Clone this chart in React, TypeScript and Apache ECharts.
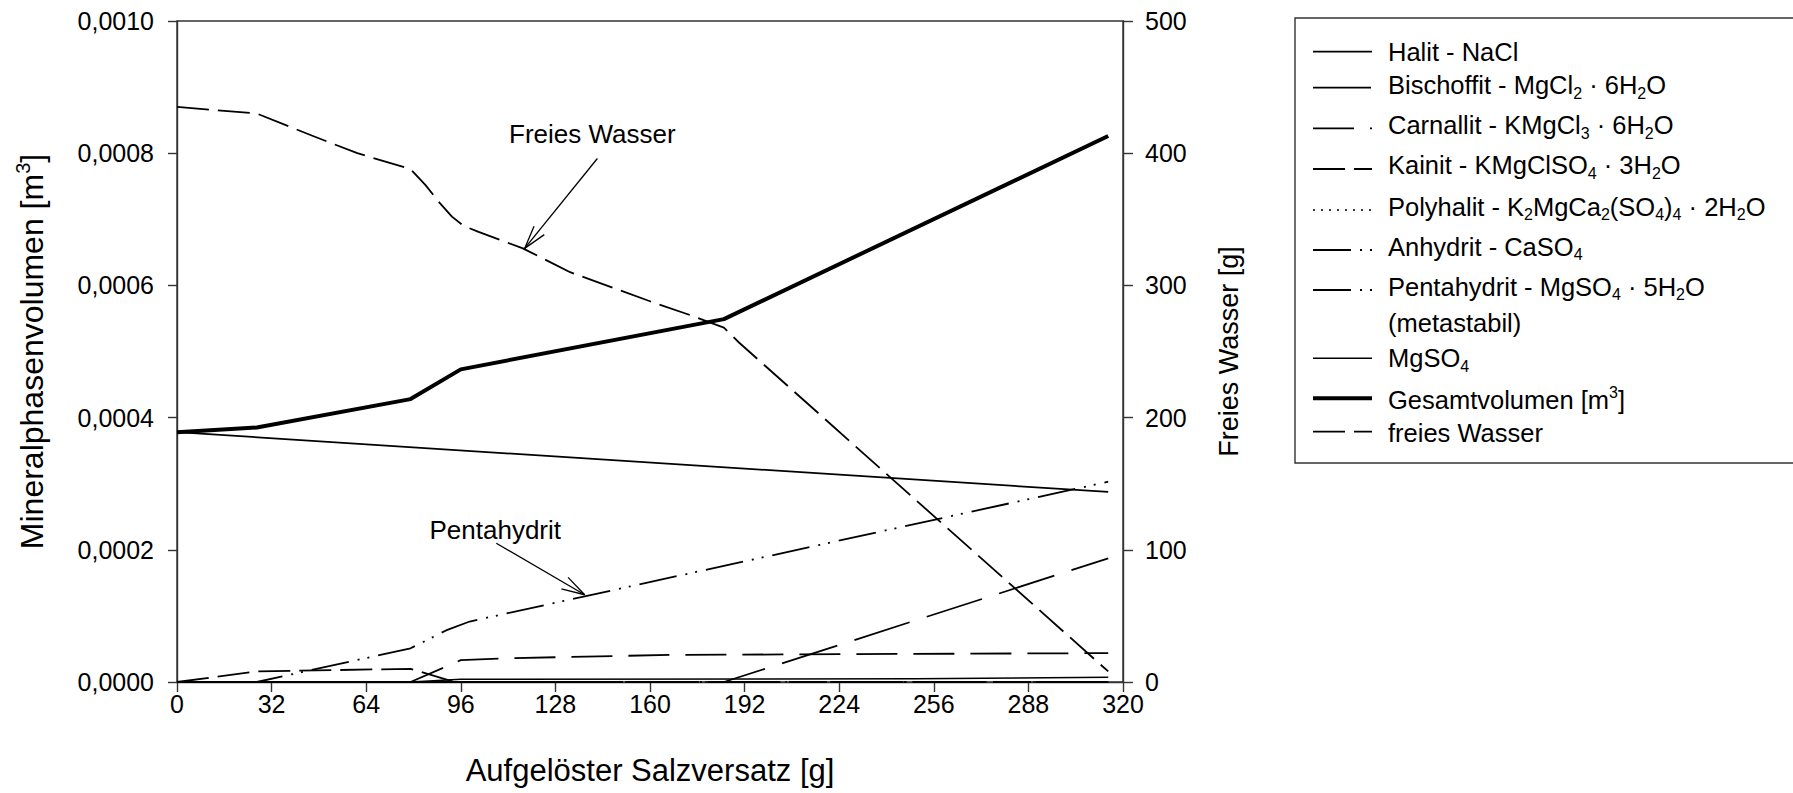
import React, { useEffect, useRef } from "react";
import * as echarts from "echarts";

// ---- axis ranges / ticks ----
const xMin = 0;
const xMax = 320;
const xStep = 32;
const volMax = 0.001;
const volStep = 0.0002;
const waterMax = 500;
const waterStep = 100;

// ---- mineral phase volumes [m³] vs. dissolved backfill salt [g] ----
const halitX = [0, 315];
const halitV = [0.000378, 0.0002875];

const bischoffitX = [0, 185, 315];
const bischoffitV = [0, 0, 0.000187];

const carnallitX = [0, 79, 96, 112, 167, 315];
const carnallitV = [0, 0, 0.000033, 0.000036, 0.000041, 0.0000437];

const kainitX = [0, 27, 79, 94, 315];
const kainitV = [0, 0.000016, 0.00002, 0, 0];

const polyhalitX = [0, 315];
const polyhalitV = [0, 0];

const anhydritX = [0, 315];
const anhydritV = [0, 0];

const pentahydritX = [0, 27, 79, 91, 99, 315];
const pentahydritV = [0, 0, 0.000051, 0.000078, 0.0000915, 0.000303];

const mgso4X = [0, 79, 96, 250, 315];
const mgso4V = [0, 0, 0.000004, 0.000005, 0.000007];

const gesamtX = [0, 27, 79, 96, 185, 315];
const gesamtV = [0.000378, 0.000385, 0.000428, 0.000473, 0.000549, 0.000826];

// ---- free water [g] ----
const wasserX = [0, 27, 46, 61, 79, 84, 89, 93, 97, 102, 117, 133, 160, 173, 185, 190, 315];
const wasserG = [435, 430, 413, 400, 388, 376, 362, 352, 345, 340.5, 328, 310, 288, 278, 268, 257, 8];

const FONT = "'Liberation Sans', Arial, Helvetica, sans-serif";
const INK = "#000";
const AXIS = "#333";

type Def = {
  label: string;
  x: number[];
  y: number[];
  axis: number;
  width: number;
  dash: "solid" | number[];
};

const defs: Def[] = [
  { label: "{n|Halit - NaCl}", x: halitX, y: halitV, axis: 0, width: 1.8, dash: "solid" },
  { label: "{n|Bischoffit - MgCl}{s|2}{n| · 6H}{s|2}{n|O}", x: bischoffitX, y: bischoffitV, axis: 0, width: 1.8, dash: [58, 18] },
  { label: "{n|Carnallit - KMgCl}{s|3}{n| · 6H}{s|2}{n|O}", x: carnallitX, y: carnallitV, axis: 0, width: 1.8, dash: [41, 16] },
  { label: "{n|Kainit - KMgClSO}{s|4}{n| · 3H}{s|2}{n|O}", x: kainitX, y: kainitV, axis: 0, width: 1.8, dash: [32, 9] },
  { label: "{n|Polyhalit - K}{s|2}{n|MgCa}{s|2}{n|(SO}{s|4}{n|)}{s|4}{n| · 2H}{s|2}{n|O}", x: polyhalitX, y: polyhalitV, axis: 0, width: 1.5, dash: [2, 6] },
  { label: "{n|Anhydrit - CaSO}{s|4}", x: anhydritX, y: anhydritV, axis: 0, width: 1.8, dash: [38, 9, 2, 8, 2, 9] },
  { label: "{n|Pentahydrit - MgSO}{s|4}{n| · 5H}{s|2}{n|O}", x: pentahydritX, y: pentahydritV, axis: 0, width: 1.8, dash: [38, 9, 2, 8, 2, 9] },
  { label: "{n|MgSO}{s|4}", x: mgso4X, y: mgso4V, axis: 0, width: 1.5, dash: "solid" },
  { label: "{n|Gesamtvolumen [m}{p|3}{n|]}", x: gesamtX, y: gesamtV, axis: 0, width: 4, dash: "solid" },
  { label: "{n|freies Wasser}", x: wasserX, y: wasserG, axis: 1, width: 1.8, dash: [32, 9] },
];

// legend layout (pixels)
const legendBox = { x: 1295, y: 18, w: 530, h: 445 };
const legendLineX = [1313, 1372];
const legendTextX = 1388;
const legendTextY = [51.7, 85, 125, 165, 206.7, 246.7, 286.7, 358.3, 400, 433.3];
const legendSymY = [51.7, 87.7, 128.3, 169, 210, 250, 290, 358.3, 398.3, 431.7];
const metastabilY = 323.3;

const legendRich = {
  n: { fontSize: 25.5, fontFamily: FONT, lineHeight: 32, verticalAlign: "middle", fill: INK, color: INK },
  s: { fontSize: 16, fontFamily: FONT, lineHeight: 16, verticalAlign: "bottom", fill: INK, color: INK },
  p: { fontSize: 16, fontFamily: FONT, lineHeight: 16, verticalAlign: "top", fill: INK, color: INK },
};

// callouts: arrow tip on the curve, tail, label offset from the tail
const callouts = [
  { text: "Freies Wasser", axis: 1, tip: [117.6, 328], tail: [142.2, 396], dx: -5, dy: -24 },
  { text: "Pentahydrit", axis: 0, tip: [137.9, 0.000132], tail: [108, 0.00021], dx: -1, dy: -13 },
];

function toPairs(x: number[], y: number[]) {
  return x.map((v, i) => [v, y[i]]);
}

export default function App() {
  const ref = useRef<HTMLDivElement>(null);

  useEffect(() => {
    if (!ref.current) return;
    const chart = echarts.init(ref.current, null, { renderer: "svg" });

    const series = defs.map((d) => ({
      type: "line",
      name: d.label,
      yAxisIndex: d.axis,
      data: toPairs(d.x, d.y),
      showSymbol: false,
      symbol: "none",
      silent: true,
      z: d.width > 3 ? 5 : 3,
      lineStyle: { color: INK, width: d.width, type: d.dash, cap: "butt", join: "round" },
    }));

    const axisLine = { show: true, onZero: false, lineStyle: { color: AXIS, width: 1.4 } };

    chart.setOption({
      animation: false,
      backgroundColor: "#fff",
      textStyle: { fontFamily: FONT },
      grid: {
        left: 177,
        right: 670,
        top: 21,
        bottom: 111,
        show: true,
        borderColor: AXIS,
        borderWidth: 1.4,
        backgroundColor: "transparent",
        outerBoundsMode: "none",
      },
      xAxis: {
        type: "value",
        min: xMin,
        max: xMax,
        interval: xStep,
        axisLine,
        axisTick: { show: true, length: 10, lineStyle: { color: AXIS, width: 1.4 } },
        axisLabel: { fontSize: 25, color: INK, margin: 9, fontFamily: FONT },
        splitLine: { show: false },
        name: "Aufgelöster Salzversatz [g]",
        nameLocation: "middle",
        nameGap: 73,
        nameTextStyle: { fontSize: 31, color: INK, fontFamily: FONT },
      },
      yAxis: [
        {
          type: "value",
          position: "left",
          min: 0,
          max: volMax,
          interval: volStep,
          axisLine,
          axisTick: { show: true, length: 9, lineStyle: { color: AXIS, width: 1.4 } },
          axisLabel: {
            fontSize: 25,
            color: INK,
            margin: 23,
            fontFamily: FONT,
            formatter: (v: number) => v.toFixed(4).replace(".", ","),
          },
          splitLine: { show: false },
          name: "{n|Mineralphasenvolumen [m}{p|3}{n|]}",
          nameLocation: "middle",
          nameRotate: 90,
          nameGap: 126,
          nameTextStyle: {
            fontSize: 32,
            color: INK,
            fontFamily: FONT,
            rich: {
              n: { fontSize: 32, fontFamily: FONT, lineHeight: 38, verticalAlign: "middle", color: INK },
              p: { fontSize: 20, fontFamily: FONT, lineHeight: 20, verticalAlign: "top", color: INK },
            },
          },
        },
        {
          type: "value",
          position: "right",
          min: 0,
          max: waterMax,
          interval: waterStep,
          axisLine,
          axisTick: { show: true, length: 10, lineStyle: { color: AXIS, width: 1.4 } },
          axisLabel: { fontSize: 25, color: INK, margin: 22, fontFamily: FONT },
          splitLine: { show: false },
          name: "Freies Wasser [g]",
          nameLocation: "middle",
          nameRotate: 90,
          nameGap: 92,
          nameTextStyle: { fontSize: 27, color: INK, fontFamily: FONT },
        },
      ],
      series,
    });

    const graphics: any[] = [];

    // legend frame, samples and labels
    graphics.push({
      type: "rect",
      silent: true,
      shape: { x: legendBox.x, y: legendBox.y, width: legendBox.w, height: legendBox.h },
      style: { fill: "none", stroke: AXIS, lineWidth: 1.4 },
    });
    defs.forEach((d, i) => {
      graphics.push({
        type: "line",
        silent: true,
        shape: { x1: legendLineX[0], y1: legendSymY[i], x2: legendLineX[1], y2: legendSymY[i] },
        style: {
          stroke: INK,
          lineWidth: d.width,
          lineDash: d.dash === "solid" ? null : d.dash,
          lineCap: "butt",
        },
      });
      graphics.push({
        type: "text",
        silent: true,
        x: legendTextX,
        y: legendTextY[i],
        style: {
          text: d.label,
          rich: legendRich,
          fill: INK,
          align: "left",
          verticalAlign: "middle",
          textAlign: "left",
          textVerticalAlign: "middle",
        },
      });
    });
    graphics.push({
      type: "text",
      silent: true,
      x: legendTextX,
      y: metastabilY,
      style: {
        text: "(metastabil)",
        font: `25.5px ${FONT}`,
        fill: INK,
        align: "left",
        verticalAlign: "middle",
        textAlign: "left",
        textVerticalAlign: "middle",
      },
    });

    // callout arrows with open heads
    callouts.forEach((c) => {
      const finder = { xAxisIndex: 0, yAxisIndex: c.axis };
      const tip = chart.convertToPixel(finder, c.tip) as number[];
      const tail = chart.convertToPixel(finder, c.tail) as number[];
      const ang = Math.atan2(tail[1] - tip[1], tail[0] - tip[0]);
      const headLen = 24;
      const spread = (16 * Math.PI) / 180;
      const lineStyle = { stroke: INK, lineWidth: 1.3 };
      graphics.push({
        type: "line",
        silent: true,
        shape: { x1: tail[0], y1: tail[1], x2: tip[0], y2: tip[1] },
        style: lineStyle,
      });
      [ang - spread, ang + spread].forEach((a) => {
        graphics.push({
          type: "line",
          silent: true,
          shape: {
            x1: tip[0],
            y1: tip[1],
            x2: tip[0] + headLen * Math.cos(a),
            y2: tip[1] + headLen * Math.sin(a),
          },
          style: lineStyle,
        });
      });
      graphics.push({
        type: "text",
        silent: true,
        x: tail[0] + c.dx,
        y: tail[1] + c.dy,
        style: {
          text: c.text,
          font: `26px ${FONT}`,
          fill: INK,
          align: "center",
          verticalAlign: "middle",
          textAlign: "center",
          textVerticalAlign: "middle",
        },
      });
    });

    chart.setOption({ graphic: graphics });

    return () => chart.dispose();
  }, []);

  return (
    <div
      ref={ref}
      style={{ position: "fixed", left: 0, top: 0, width: 1793, height: 793, background: "#fff" }}
    />
  );
}
